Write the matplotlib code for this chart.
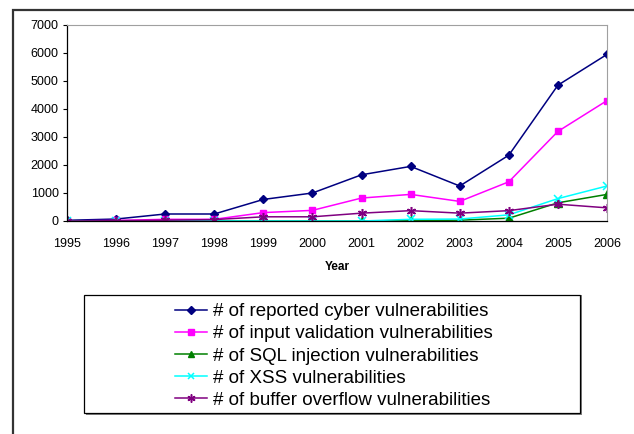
import matplotlib
matplotlib.use("Agg")
from matplotlib import pyplot as plt
from matplotlib.patches import Rectangle

years = [1995, 1996, 1997, 1998, 1999, 2000, 2001, 2002, 2003, 2004, 2005, 2006]
reported = [25, 70, 250, 250, 770, 1000, 1650, 1950, 1250, 2350, 4850, 5950]
input_val = [5, 20, 60, 60, 300, 380, 820, 950, 700, 1400, 3200, 4300]
sql_inj = [0, 0, 0, 0, 0, 0, 0, 20, 30, 100, 650, 950]
xss = [0, 0, 0, 0, 0, 0, 0, 60, 70, 220, 800, 1250]
buffer_ovf = [0, 10, 30, 50, 150, 150, 280, 370, 280, 370, 600, 470]

labels = ["# of reported cyber vulnerabilities",
          "# of input validation vulnerabilities",
          "# of SQL injection vulnerabilities",
          "# of XSS vulnerabilities",
          "# of buffer overflow vulnerabilities"]

plt.rcParams['font.family'] = ['Liberation Sans', 'DejaVu Sans']

fig = plt.figure(figsize=(6.34, 4.34), dpi=100)
W, H = 634, 434

# outer chart border
fig.patches.append(Rectangle((13 / W, -0.05), 1.0, 1 - 10 / H + 0.05, transform=fig.transFigure,
                             fill=False, edgecolor='#333333', linewidth=1.6))

ax = fig.add_axes([67 / W, 1 - 221 / H, (607 - 67) / W, (221 - 25) / H])
x = list(range(len(years)))
ax.plot(x, reported, color='#000080', marker='D', markersize=4.5, lw=1.1, label=labels[0])
ax.plot(x, input_val, color='#ff00ff', marker='s', markersize=5, lw=1.1, label=labels[1])
ax.plot(x, sql_inj, color='#008000', marker='^', markersize=5.5, lw=1.1, label=labels[2])
ax.plot(x, xss, color='#00ffff', marker='x', markersize=5.5, mew=1.1, lw=1.1, label=labels[3])
ax.plot(x, buffer_ovf, color='#800080', marker=(6, 2, 0), markersize=6.5, mew=1.1, lw=1.1, label=labels[4])

ax.set_xlim(0, len(years) - 1)
ax.set_ylim(0, 7000)
ax.set_yticks(range(0, 7001, 1000))
ax.set_xticks(x)
ax.set_xticklabels([str(y) for y in years])
ax.tick_params(labelsize=9, length=3, width=0.8, pad=3)
ax.tick_params(axis='x', pad=12, length=0)
ax.set_xlabel("Year", fontsize=8.5, fontweight='bold', labelpad=8)
for s in ['top', 'right']:
    ax.spines[s].set_color('#a0a0a0')
for s in ['left', 'bottom']:
    ax.spines[s].set_color('black')
    ax.spines[s].set_linewidth(0.9)

# legend frame with shadow
fig.patches.append(Rectangle((86 / W, 1 - 415 / H), (580 - 84) / W, (415 - 295) / H,
                             transform=fig.transFigure, facecolor='#808080', edgecolor='none'))
fig.patches.append(Rectangle((84 / W, 1 - 413 / H), (580 - 84) / W, (413 - 295) / H,
                             transform=fig.transFigure, facecolor='white', edgecolor='black', linewidth=0.9))

fig.legend(loc='upper left', bbox_to_anchor=(162 / W, 1 - 290 / H), frameon=False,
           fontsize=13.5, handlelength=1.7, handletextpad=0.3, labelspacing=0.27,
           borderpad=0.2, markerscale=0.9)

fig.savefig("out.png", dpi=100)
